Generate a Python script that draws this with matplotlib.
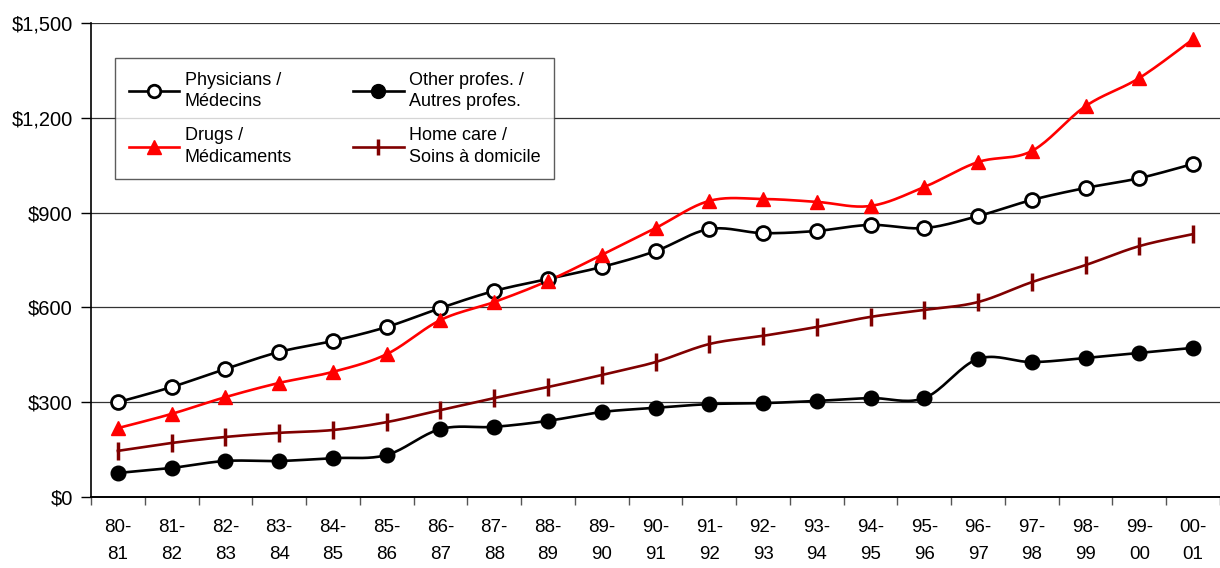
import numpy as np
import matplotlib
matplotlib.use("Agg")
import matplotlib.pyplot as plt
from matplotlib.lines import Line2D
from matplotlib.ticker import FuncFormatter

plt.rcParams['font.family'] = ['Liberation Sans', 'DejaVu Sans']

years = ["80-\n81", "81-\n82", "82-\n83", "83-\n84", "84-\n85", "85-\n86", "86-\n87",
         "87-\n88", "88-\n89", "89-\n90", "90-\n91", "91-\n92", "92-\n93", "93-\n94",
         "94-\n95", "95-\n96", "96-\n97", "97-\n98", "98-\n99", "99-\n00", "00-\n01"]

physicians = [300, 348, 405, 459, 494, 538, 598, 652, 690, 728, 778,
              848, 835, 842, 861, 851, 889, 940, 978, 1009, 1054]
other_prof = [76, 92, 114, 114, 123, 133, 215, 222, 241, 269, 282,
              294, 297, 304, 313, 313, 437, 427, 440, 456, 472]
drugs = [218, 263, 316, 361, 396, 452, 560, 617, 684, 766, 851,
         937, 943, 934, 921, 981, 1060, 1095, 1237, 1326, 1449]
home_care = [146, 171, 190, 203, 212, 237, 275, 313, 348, 386, 427,
             484, 510, 538, 570, 592, 617, 680, 734, 794, 832]


def smooth(y, n=20):
    # Catmull-Rom curve through the points, like Excel's smoothed line
    y = np.asarray(y, dtype=float)
    x = np.arange(len(y), dtype=float)
    xs, ys = [], []
    for i in range(len(y) - 1):
        p0 = max(i - 1, 0)
        p3 = min(i + 2, len(y) - 1)
        t = np.linspace(0, 1, n, endpoint=False)
        for arr, out in ((x, xs), (y, ys)):
            a, b, c, d = arr[p0], arr[i], arr[i + 1], arr[p3]
            m1 = (c - a) / 2.0
            m2 = (d - b) / 2.0
            h00 = 2 * t**3 - 3 * t**2 + 1
            h10 = t**3 - 2 * t**2 + t
            h01 = -2 * t**3 + 3 * t**2
            h11 = t**3 - t**2
            out.extend(h00 * b + h10 * m1 + h01 * c + h11 * m2)
    xs.append(x[-1])
    ys.append(y[-1])
    return np.array(xs), np.array(ys)


fig = plt.figure(figsize=(12.2, 5.68), dpi=100)
ax = fig.add_axes([91 / 1220, 1 - 497 / 568, 1 - 91 / 1220, (497 - 23) / 568])

series = [
    (physicians, "black", dict(marker="o", markerfacecolor="white", markeredgecolor="black",
                               markersize=10, markeredgewidth=2)),
    (other_prof, "black", dict(marker="o", markerfacecolor="black", markeredgecolor="black",
                               markersize=10.5)),
    (drugs, "#ff0000", dict(marker="^", markerfacecolor="#ff0000", markeredgecolor="#ff0000",
                            markersize=10.5)),
    (home_care, "#800000", dict(marker="|", markeredgecolor="#800000", markersize=13,
                                markeredgewidth=2.5)),
]

idx = np.arange(len(years))
for vals, col, mk in series:
    sx, sy = smooth(vals)
    ax.plot(sx, sy, color=col, lw=1.9, zorder=3)
    ax.plot(idx, vals, linestyle="none", zorder=4, **mk)

ax.set_xlim(-0.5, (1220 - 118) / 54.15)
ax.set_ylim(0, 1500)
ax.set_yticks(range(0, 1501, 300))
ax.yaxis.set_major_formatter(FuncFormatter(lambda v, p: "${:,.0f}".format(v)))
ax.grid(axis="y", color="#333333", lw=0.9)
ax.set_axisbelow(True)

ax.set_xticks(idx)
ax.set_xticklabels(years, fontsize=13.5, linespacing=1.75)
ax.set_xticks(np.arange(-0.5, len(years), 1), minor=True)
ax.tick_params(axis="x", which="major", length=0, pad=16)
ax.tick_params(axis="x", which="minor", length=6, width=1, color="#555555")
ax.tick_params(axis="y", labelsize=14.5, length=7, width=1, pad=6)

for s in ("top", "right"):
    ax.spines[s].set_visible(False)
ax.spines["left"].set_linewidth(1.2)
ax.spines["bottom"].set_linewidth(1.4)

handles = [
    Line2D([], [], color="black", lw=1.9, marker="o", markerfacecolor="white",
           markeredgecolor="black", markersize=9, markeredgewidth=2),
    Line2D([], [], color="#ff0000", lw=1.9, marker="^", markerfacecolor="#ff0000",
           markeredgecolor="#ff0000", markersize=10),
    Line2D([], [], color="black", lw=1.9, marker="o", markerfacecolor="black",
           markeredgecolor="black", markersize=10),
    Line2D([], [], color="#800000", lw=1.9, marker="|", markeredgecolor="#800000",
           markersize=12, markeredgewidth=2.5),
]
labels = ["Physicians /\nMédecins", "Drugs /\nMédicaments",
          "Other profes. /\nAutres profes.", "Home care /\nSoins à domicile"]
leg = ax.legend(handles, labels, ncol=2, loc="upper left",
                bbox_to_anchor=((115 - 91) / 1129, (497 - 58) / 474),
                borderaxespad=0, fontsize=13, frameon=True, fancybox=False,
                handlelength=2.8, handletextpad=0.3, columnspacing=3.4,
                labelspacing=0.95, borderpad=0.75)
for t in leg.get_texts():
    t.set_linespacing(1.35)
leg.get_frame().set_edgecolor("#333333")
leg.get_frame().set_linewidth(1.0)

fig.savefig("out.png", dpi=100)
